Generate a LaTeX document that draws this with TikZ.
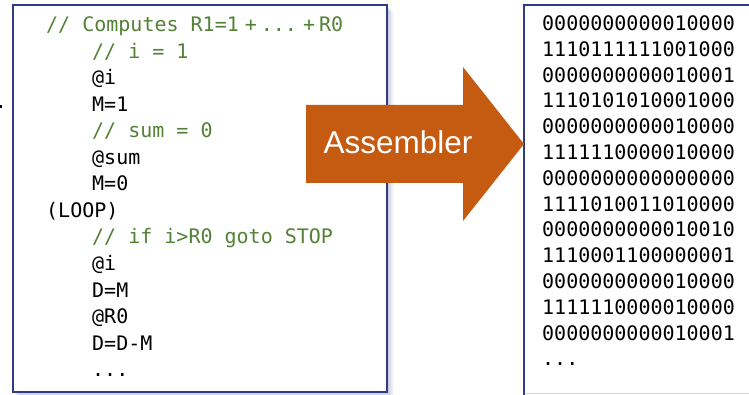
\documentclass[tikz,border=0pt]{standalone}
\usepackage{fontspec}
\setmainfont{Liberation Sans}
\newfontfamily\codefont{DejaVu Sans Mono}
\definecolor{boxblue}{HTML}{2F3D87}
\definecolor{cgreen}{HTML}{538135}
\definecolor{asmorange}{HTML}{C55A11}
\definecolor{shadowblue}{HTML}{8C96C0}
\begin{document}
\begin{tikzpicture}[x=1pt,y=-1pt,
  code/.style={anchor=base west, inner sep=0pt, font=\codefont\fontsize{20}{20}\selectfont, text=black},
  cmt/.style={code, text=cgreen},
  frame/.style={draw=boxblue, line width=2.6pt, fill=white}]
\useasboundingbox (0,0) rectangle (749,395);
% shadow of left box
\foreach \k/\o in {7/0.05,6/0.07,5/0.09,4/0.11,3/0.13,2/0.15,1/0.17}{
  \fill[shadowblue, opacity=\o] (13+\k,5+\k) rectangle (387+\k,392+\k);
}
% left box
\path[frame] (13,5) rectangle (387,392);
% right box
\path[frame] (524,5) rectangle (760,400);
\draw[shadowblue!40, line width=1pt] (526,393.5) -- (749,393.5);
% tiny mark
\fill[black] (0,105) rectangle (1.5,108.5);
% code lines
\node[cmt]  (c0)  at (46,31.5)   {// Computes R1=1\hspace{6pt}+\hspace{4pt}{.}{.}{.}\hspace{6pt}+\hspace{4pt}R0};
\node[cmt]  (c1)  at (92,58.05)  {// i = 1};
\node[code] (c2)  at (92,84.6)   {@i};
\node[code] (c3)  at (92,111.15) {M=1};
\node[cmt]  (c4)  at (92,137.7)  {// sum = 0};
\node[code] (c5)  at (92,164.25) {@sum};
\node[code] (c6)  at (92,190.8)  {M=0};
\node[code] (c7)  at (46,217.35) {(LOOP)};
\node[cmt]  (c8)  at (92,243.9)  {// if i>R0 goto STOP};
\node[code] (c9)  at (92,270.45) {@i};
\node[code] (c10) at (92,297)    {D=M};
\node[code] (c11) at (92,323.55) {@R0};
\node[code] (c12) at (92,350.1)  {D=D-M};
\node[code] (c13) at (92,376.65) {{.}{.}{.}};
% binary lines
\foreach \s [count=\i from 0] in {0000000000010000,1110111111001000,0000000000010001,1110101010001000,0000000000010000,1111110000010000,0000000000000000,1111010011010000,0000000000010010,1110001100000001,0000000000010000,1111110000010000,0000000000010001}{
  \node[code] (b\i) at (542,30.5+25.8*\i) {\s};
}
\node[code] (b13) at (542,365.9) {{.}{.}{.}};
% arrow
\fill[asmorange] (306,105) -- (463,105) -- (463,67) -- (524,144) -- (463,221) -- (463,183) -- (306,183) -- cycle;
\node[anchor=base, inner sep=0pt, text=white, font=\fontsize{31.5}{31.5}\selectfont] (asm) at (398,154) {Assembler};
\end{tikzpicture}
\end{document}
